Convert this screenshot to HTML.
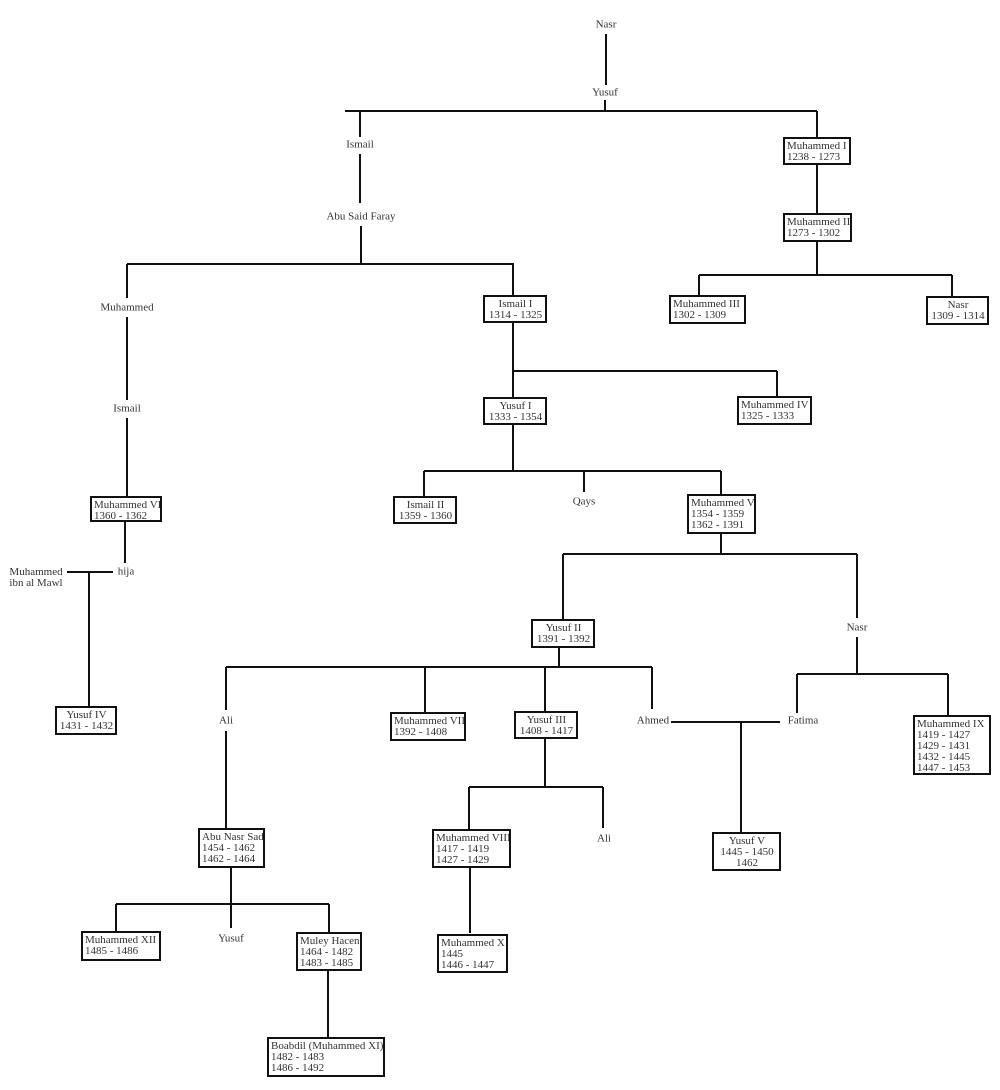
<!DOCTYPE html>
<html><head><meta charset="utf-8"><style>
body{margin:0;background:#fff;}
#c{position:relative;width:1000px;height:1090px;overflow:hidden;font-family:"Liberation Serif","DejaVu Serif",serif;font-size:11px;color:#333;}
.b{position:absolute;border:2px solid #111;background:#fff;box-sizing:border-box;padding:2px 1px 0 2px;line-height:11px;white-space:nowrap;overflow:hidden;}
.t{position:absolute;line-height:11px;white-space:nowrap;transform:translate(-50%,-50%);background:#fff;padding:0 1px;}
.ctr{text-align:center;}
svg{position:absolute;left:0;top:0;}
</style></head><body><div id="c">
<svg width="1000" height="1090" stroke="#111" stroke-width="2" fill="none">
<path d="M606 34V85M605 100V111M345 111H817M360 111V137M360 154V203M361 226V264M127 264H514M817 111V138M817 164V214M817 242V275M699 275H952M699 275V296M952 275V297"/>
<path d="M127 264V298M127 317V400M127 418V496M125 521V563M67 572H113M89 572V707"/>
<path d="M513 264V296M513 323V398M513 371H777M777 371V398M513 424V472M424 471H721M424 471V497M584 471V492M721 471V496M721 533V554M563 554H857M563 554V621M857 554V618M857 637V674M797 674H948M797 674V713M948 674V716"/>
<path d="M559 646V667M226 667H652M226 667V710M226 731V829M425 667V712M545 667V712M652 667V709M671 722H780M741 722V833"/>
<path d="M545 738V787M469 787H603M603 787V828M469 787V830M470 867V933M231 866V904M116 904H329M116 904V933M231 904V928M329 904V933M328 970V1038"/>
</svg>
<div class="t" style="left:606px;top:25px">Nasr</div>
<div class="t" style="left:605px;top:93px">Yusuf</div>
<div class="t" style="left:360px;top:145px">Ismail</div>
<div class="t" style="left:361px;top:217px">Abu Said Faray</div>
<div class="t" style="left:127px;top:308px">Muhammed</div>
<div class="t" style="left:127px;top:409px">Ismail</div>
<div class="t" style="left:126px;top:572px">hija</div>
<div class="t" style="left:36px;top:578px;text-align:left">Muhammed<br>ibn al Mawl</div>
<div class="t" style="left:584px;top:502px">Qays</div>
<div class="t" style="left:857px;top:628px">Nasr</div>
<div class="t" style="left:226px;top:721px">Ali</div>
<div class="t" style="left:653px;top:721px">Ahmed</div>
<div class="t" style="left:803px;top:721px">Fatima</div>
<div class="t" style="left:604px;top:839px">Ali</div>
<div class="t" style="left:231px;top:939px">Yusuf</div>

<div class="b" style="left:783px;top:137px;width:68px;height:28px">Muhammed I<br>1238 - 1273</div>
<div class="b" style="left:783px;top:213px;width:69px;height:29px">Muhammed II<br>1273 - 1302</div>
<div class="b" style="left:669px;top:295px;width:77px;height:29px">Muhammed III<br>1302 - 1309</div>
<div class="b ctr" style="left:926px;top:296px;width:63px;height:29px">Nasr<br>1309 - 1314</div>
<div class="b ctr" style="left:483px;top:295px;width:64px;height:28px">Ismail I<br>1314 - 1325</div>
<div class="b ctr" style="left:483px;top:397px;width:64px;height:28px">Yusuf I<br>1333 - 1354</div>
<div class="b" style="left:737px;top:396px;width:75px;height:29px">Muhammed IV<br>1325 - 1333</div>
<div class="b ctr" style="left:393px;top:496px;width:64px;height:28px">Ismail II<br>1359 - 1360</div>
<div class="b" style="left:687px;top:494px;width:69px;height:40px">Muhammed V<br>1354 - 1359<br>1362 - 1391</div>
<div class="b" style="left:90px;top:496px;width:72px;height:26px">Muhammed VI<br>1360 - 1362</div>
<div class="b ctr" style="left:55px;top:706px;width:62px;height:29px">Yusuf IV<br>1431 - 1432</div>
<div class="b ctr" style="left:531px;top:619px;width:64px;height:29px">Yusuf II<br>1391 - 1392</div>
<div class="b" style="left:390px;top:712px;width:76px;height:29px">Muhammed VII<br>1392 - 1408</div>
<div class="b ctr" style="left:514px;top:711px;width:64px;height:28px">Yusuf III<br>1408 - 1417</div>
<div class="b" style="left:913px;top:715px;width:78px;height:60px">Muhammed IX<br>1419 - 1427<br>1429 - 1431<br>1432 - 1445<br>1447 - 1453</div>
<div class="b" style="left:198px;top:828px;width:67px;height:40px">Abu Nasr Sad<br>1454 - 1462<br>1462 - 1464</div>
<div class="b" style="left:432px;top:829px;width:79px;height:39px">Muhammed VIII<br>1417 - 1419<br>1427 - 1429</div>
<div class="b ctr" style="left:712px;top:832px;width:69px;height:39px">Yusuf V<br>1445 - 1450<br>1462</div>
<div class="b" style="left:81px;top:931px;width:80px;height:30px">Muhammed XII<br>1485 - 1486</div>
<div class="b" style="left:296px;top:932px;width:66px;height:39px">Muley Hacen<br>1464 - 1482<br>1483 - 1485</div>
<div class="b" style="left:437px;top:934px;width:71px;height:39px">Muhammed X<br>1445<br>1446 - 1447</div>
<div class="b" style="left:267px;top:1037px;width:118px;height:40px">Boabdil (Muhammed XI)<br>1482 - 1483<br>1486 - 1492</div>
</div></body></html>
